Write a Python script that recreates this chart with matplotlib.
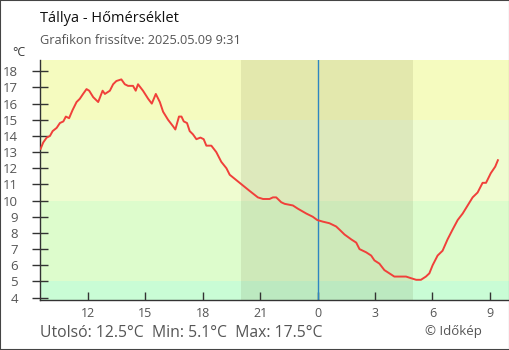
import matplotlib
matplotlib.use("Agg")
import matplotlib.pyplot as plt
from matplotlib.patches import Rectangle

plt.rcParams['font.family'] = ['Open Sans', 'DejaVu Sans']

# hours since midnight of the previous day (24 = midnight)
hours = [9.53, 9.67, 9.85, 10.02, 10.16, 10.37, 10.54, 10.72, 10.85, 11.02, 11.20,
         11.41, 11.58, 11.75, 11.93, 12.07, 12.28, 12.54, 12.77, 12.89, 13.15, 13.32,
         13.49, 13.75, 13.93, 14.10, 14.36, 14.50, 14.62, 14.88, 15.15, 15.34, 15.55,
         15.76, 15.93, 16.19, 16.45, 16.57, 16.76, 16.89, 17.01, 17.18, 17.32, 17.49,
         17.67, 17.88, 18.05, 18.19, 18.45, 18.71, 18.97, 19.24, 19.41, 19.93, 20.45,
         20.88, 21.15, 21.49, 21.67, 21.84, 22.10, 22.28, 22.71, 22.97, 23.41, 23.75,
         23.98, 24.27, 24.62, 24.97, 25.15, 25.41, 25.76, 26.02, 26.19, 26.54, 26.80,
         26.97, 27.23, 27.49, 27.75, 28.01, 28.62, 28.88, 29.15, 29.40, 29.66, 29.84,
         30.01, 30.27, 30.53, 30.79, 31.05, 31.32, 31.58, 31.84, 32.10, 32.36, 32.62,
         32.80, 33.05, 33.28, 33.42]
temps = [13.2, 13.6, 13.9, 14.0, 14.3, 14.5, 14.8, 14.9, 15.2, 15.1, 15.6,
         16.1, 16.3, 16.6, 16.9, 16.8, 16.4, 16.1, 16.8, 16.6, 16.8, 17.2,
         17.4, 17.5, 17.2, 17.1, 17.1, 16.8, 17.2, 16.8, 16.3, 16.0, 16.6,
         16.1, 15.5, 15.0, 14.6, 14.4, 15.2, 15.2, 14.9, 14.8, 14.3, 14.1,
         13.8, 13.9, 13.8, 13.4, 13.4, 13.0, 12.4, 12.0, 11.6, 11.1, 10.6,
         10.2, 10.1, 10.1, 10.2, 10.2, 9.9, 9.8, 9.7, 9.5, 9.2, 9.0,
         8.8, 8.7, 8.6, 8.4, 8.2, 7.9, 7.6, 7.4, 7.0, 6.8, 6.6,
         6.3, 6.1, 5.7, 5.5, 5.3, 5.3, 5.2, 5.1, 5.1, 5.3, 5.5,
         6.0, 6.6, 6.9, 7.6, 8.2, 8.8, 9.2, 9.7, 10.2, 10.5, 11.1,
         11.1, 11.7, 12.1, 12.5]

xticks = [12, 15, 18, 21, 24, 27, 30, 33]
xlabels = ['12', '15', '18', '21', '0', '3', '6', '9']
yticks = list(range(4, 19))

night_start, night_end = 20.0, 29.0
last_t, min_t, max_t = 12.5, 5.1, 17.5

fig = plt.figure(figsize=(5.1, 3.5), dpi=100)
ax = fig.add_axes([40 / 510, 50 / 350, 469 / 510, 240 / 350])
ax.set_xlim(9.5, 34.0)
ax.set_ylim(3.85, 18.7)

# temperature bands
bands = [(-10, 5, '#c9fcd5'), (5, 10, '#ddfccc'), (10, 15, '#effcd0'), (15, 40, '#f5fbbf')]
for lo, hi, c in bands:
    ax.axhspan(lo, hi, color=c, lw=0, zorder=0)
ax.axvspan(night_start, night_end, color='#6b6b3a', alpha=0.13, lw=0, zorder=1)
ax.axvline(24, color='#2e86c1', lw=1, zorder=2)

ax.plot(hours, temps, color='#f0403a', lw=1.4, zorder=3)

for s in ['top', 'right']:
    ax.spines[s].set_visible(False)
for s in ['left', 'bottom']:
    ax.spines[s].set_color('#333333')
    ax.spines[s].set_linewidth(1)

ax.set_yticks(yticks)
ax.set_yticklabels([str(v) for v in yticks])
ax.tick_params(axis='y', direction='inout', length=12, width=1, color='#333333',
               labelsize=9.5, labelcolor='#555555', pad=10)
ax.set_xticks(xticks)
ax.set_xticklabels(xlabels)
ax.tick_params(axis='x', direction='in', length=6, width=1, color='#333333',
               labelsize=9, labelcolor='#555555', pad=5)

fig.text(40 / 510, 1 - 18 / 350, 'Tállya - Hőmérséklet', fontsize=10.5, color='#111111',
         va='center', ha='left')
fig.text(40 / 510, 1 - 40 / 350, 'Grafikon frissítve: 2025.05.09 9:31', fontsize=9.2,
         color='#555555', va='center', ha='left')
fig.text(19 / 510, 1 - 52 / 350, '°C', fontsize=9, color='#333333', va='center', ha='center')
fig.text(40 / 510, 1 - 333 / 350,
         f'Utolsó: {last_t}°C  Min: {min_t}°C  Max: {max_t}°C',
         fontsize=11.3, color='#555555', va='center', ha='left')
fig.text(482 / 510, 1 - 331 / 350, '© Időkép', fontsize=9.5, color='#555555',
         va='center', ha='right')

fig.patches.append(Rectangle((0, 0), 1, 1, transform=fig.transFigure, fill=False,
                             edgecolor='#444444', lw=1.5))

fig.savefig('out.png', dpi=100)
